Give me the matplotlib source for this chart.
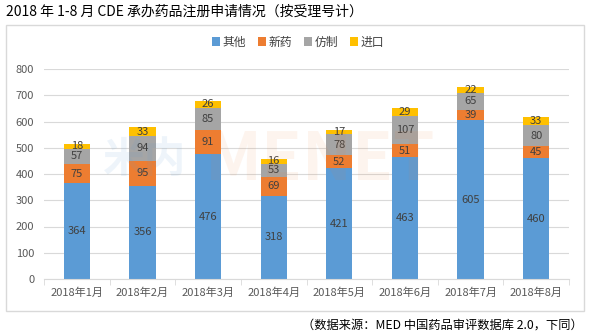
import matplotlib
matplotlib.use("Agg")
import matplotlib.pyplot as plt
from matplotlib.patches import Rectangle
import numpy as np

plt.rcParams['font.family'] = ['Noto Sans CJK SC', 'DejaVu Sans']

months = ["2018年1月", "2018年2月", "2018年3月", "2018年4月",
          "2018年5月", "2018年6月", "2018年7月", "2018年8月"]
other = [364, 356, 476, 318, 421, 463, 605, 460]
new_drug = [75, 95, 91, 69, 52, 51, 39, 45]
generic = [57, 94, 85, 53, 78, 107, 65, 80]
imported = [18, 33, 26, 16, 17, 29, 22, 33]
series_names = ["其他", "新药", "仿制", "进口"]
colors = ["#5B9BD5", "#ED7D31", "#A5A5A5", "#FFC000"]
yticks = [0, 100, 200, 300, 400, 500, 600, 700, 800]

fig = plt.figure(figsize=(5.89, 3.34), dpi=100)
ax = fig.add_axes([44/589, 1-279/334, (569-44)/589, (279-69)/334])

# outer frame
fig.patches.append(Rectangle((6/589, 1-311/334), (584-6)/589, (311-25)/334,
                             transform=fig.transFigure, fill=False,
                             edgecolor="#D9D9D9", linewidth=1.0, zorder=0))

x = np.arange(len(months))
bottom = np.zeros(len(months))
for vals, name, c in zip([other, new_drug, generic, imported], series_names, colors):
    ax.bar(x, vals, 0.4, bottom=bottom, color=c, label=name, zorder=2)
    for xi, b, v in zip(x, bottom, vals):
        ax.text(xi, b + v/2, str(v), ha="center", va="center",
                fontsize=8, color="#404040", zorder=4)
    bottom += np.array(vals)

ax.set_xlim(-0.5, len(months) - 0.5)
ax.set_ylim(0, 800)
ax.set_yticks(yticks)
ax.set_xticks(x)
ax.set_xticklabels(months)
ax.tick_params(axis="y", length=0, labelsize=8, labelcolor="#595959", pad=7)
ax.tick_params(axis="x", length=0, labelsize=8, labelcolor="#595959", pad=6)
ax.set_xticks(np.arange(-0.5, len(months)), minor=True)
ax.tick_params(axis="x", which="minor", length=4, color="#D9D9D9")
ax.grid(axis="y", color="#D9D9D9", linewidth=0.8, zorder=0)
for s in ["top", "right", "left"]:
    ax.spines[s].set_visible(False)
ax.spines["bottom"].set_color("#D9D9D9")

leg = fig.legend(loc="center", bbox_to_anchor=(298/589, 1-42/334), ncol=4,
                 frameon=False, fontsize=8.5, handlelength=0.7, handleheight=0.7,
                 handletextpad=0.2, columnspacing=1.0)
for t in leg.get_texts():
    t.set_color("#404040")

fig.text(6/589, 1-12/334, "2018 年 1-8 月 CDE 承办药品注册申请情况（按受理号计）",
         ha="left", va="center", fontsize=10, color="#000000")
fig.text(583/589, 1-325/334, "（数据来源：MED 中国药品审评数据库 2.0，下同）",
         ha="right", va="center", fontsize=8.8, color="#000000")

# watermark
fig.text(145/589, 1-160/334, "米内", ha="center", va="center", fontsize=30,
         color="#5B9BD5", alpha=0.10, fontweight="bold", zorder=10)
fig.text(320/589, 1-160/334, "MENET", ha="center", va="center", fontsize=48,
         color="#ED7D31", alpha=0.08, fontweight="bold", zorder=10)

fig.savefig("out.png", dpi=100)
